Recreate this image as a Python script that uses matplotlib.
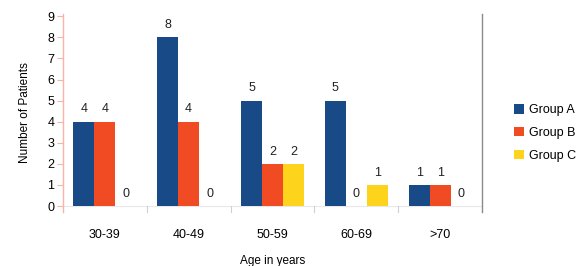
import numpy as np
import matplotlib.pyplot as plt

plt.rcParams["font.family"] = ["Liberation Sans", "DejaVu Sans"]

age_groups = ["30-39", "40-49", "50-59", "60-69", ">70"]
group_a = [4, 8, 5, 5, 1]
group_b = [4, 4, 2, 0, 1]
group_c = [0, 0, 2, 1, 0]
series_names = ["Group A", "Group B", "Group C"]
colors = ["#174a87", "#f04b23", "#fdd31c"]

fig = plt.figure(figsize=(5.81, 2.66), dpi=100)
ax = fig.add_axes([0.108, 0.203, 0.722, 0.744])

x = np.arange(len(age_groups))
w = 0.25
for i, (vals, name, c) in enumerate(zip([group_a, group_b, group_c], series_names, colors)):
    pos = x + (i - 1) * w
    ax.bar(pos, vals, width=w, color=c, label=name, zorder=2)
    for px, v in zip(pos, vals):
        ax.text(px, v + 0.3, str(v), ha="center", va="bottom", fontsize=9, color="#222222")

ax.set_xlim(-0.5, len(age_groups) - 0.5)
ax.set_ylim(-0.28, 9.1)
ax.axhline(0, color="#e8e8e8", lw=0.8, zorder=1)

# category boundary ticks below the baseline
for b in np.arange(0.5, len(age_groups) - 0.5, 1):
    ax.plot([b, b], [-0.28, 0], color="#d0d0d0", lw=0.8, clip_on=False)

ax.spines["top"].set_visible(False)
ax.spines["bottom"].set_visible(False)
ax.spines["left"].set_color("#f6b5a8")
ax.spines["right"].set_color("#8a8a8a")
ax.spines["left"].set_linewidth(1)
ax.spines["right"].set_linewidth(1)

ax.set_yticks(range(0, 10))
ax.tick_params(axis="y", length=4, color="#f6b5a8", labelsize=9, pad=2)
ax.set_xticks(x)
ax.set_xticklabels(age_groups)
ax.tick_params(axis="x", length=0, labelsize=9, pad=12)

ax.set_xlabel("Age in years", fontsize=8.5, labelpad=10)
ax.set_ylabel("Number of Patients", fontsize=8.5, labelpad=12)

ax.legend(loc="center left", bbox_to_anchor=(1.05, 0.40), frameon=False, fontsize=9,
          handlelength=0.8, handleheight=0.8, handletextpad=0.4, labelspacing=0.85)

fig.savefig("out.png", dpi=100)
